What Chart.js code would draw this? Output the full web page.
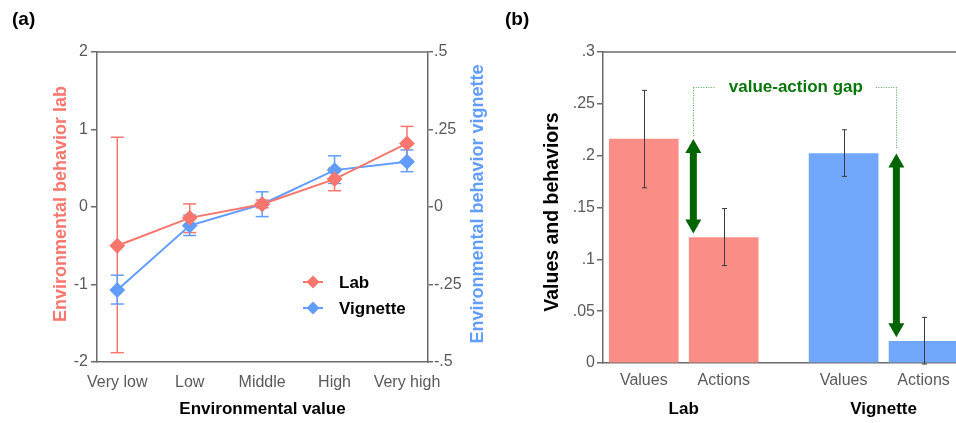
<!DOCTYPE html>
<html>
<head>
<meta charset="utf-8">
<script src="https://cdn.jsdelivr.net/npm/chart.js"></script>
<style>
    html, body { margin: 0; padding: 0; background: #fff; overflow: hidden; }
    #wrap { position: relative; width: 956px; height: 423px; }
    canvas { position: absolute; top: 0; }
    #chartA { left: 0; }
    #chartB { left: 480px; }
</style>
</head>
<body>
<div id="wrap">
    <canvas id="chartA" width="500" height="423"></canvas>
    <canvas id="chartB" width="476" height="423"></canvas>
</div>
<script>
// Panel (a): environmental value vs behavior
const envLevels = ['Very low', 'Low', 'Middle', 'High', 'Very high'];
const labMean = [-0.5, -0.14, 0.035, 0.36, 0.82];
const labLow = [-1.88, -0.33, -0.01, 0.21, 0.6];
const labHigh = [0.9, 0.04, 0.09, 0.5, 1.04];
const vigMean = [-0.268, -0.06, 0.009, 0.119, 0.146];
const vigLow = [-0.313, -0.092, -0.031, 0.076, 0.114];
const vigHigh = [-0.22, -0.026, 0.049, 0.165, 0.184];
const labTicks = [-2, -1, 0, 1, 2];
const vigTicks = [-0.5, -0.25, 0, 0.25, 0.5];

// Panel (b): values and behaviors
const barLabels = ['Values', 'Actions', 'Values', 'Actions'];
const barPos = [0, 1, 2.5, 3.5];
const barMean = [0.216, 0.121, 0.202, 0.021];
const barLow = [0.169, 0.094, 0.180, -0.001];
const barHigh = [0.263, 0.149, 0.225, 0.044];
const groupLabels = ['Lab', 'Vignette'];
const groupPos = [0.5, 3.0];
const gapArrowX = [0.62, 3.16];
const gapFrom = [barMean[0], barMean[2]];
const gapTo = [barMean[1], barMean[3]];
const bracketY = 0.266;
const bTicks = [0, 0.05, 0.1, 0.15, 0.2, 0.25, 0.3];

const RED = '#F8766D';
const BLUE = '#619CFF';
const AXIS = '#6b6b6b';
const TICK_TXT = '#5a5a5a';
const GREEN = '#006400';

Chart.defaults.font.family = "'Liberation Sans', Arial, sans-serif";
Chart.defaults.animation = false;

function fmtDot(v) {
    if (v === 0) return '0';
    return String(v).replace('0.', '.');
}

function vLine(ctx, x, y1, y2) {
    ctx.beginPath();
    ctx.moveTo(x, y1);
    ctx.lineTo(x, y2);
    ctx.stroke();
}

function hLine(ctx, x1, x2, y) {
    ctx.beginPath();
    ctx.moveTo(x1, y);
    ctx.lineTo(x2, y);
    ctx.stroke();
}

function rotText(ctx, text, x, y, font, color) {
    ctx.save();
    ctx.translate(x, y);
    ctx.rotate(-Math.PI / 2);
    ctx.font = font;
    ctx.fillStyle = color;
    ctx.textAlign = 'center';
    ctx.textBaseline = 'middle';
    ctx.fillText(text, 0, 0);
    ctx.restore();
}

function diamond(ctx, x, y, r, color) {
    ctx.beginPath();
    ctx.moveTo(x, y - r);
    ctx.lineTo(x + r, y);
    ctx.lineTo(x, y + r);
    ctx.lineTo(x - r, y);
    ctx.closePath();
    ctx.fillStyle = color;
    ctx.fill();
}

// error bars + frame + titles + legend for panel (a)
const panelAPlugin = {
    id: 'panelA',
    beforeDatasetsDraw(chart) {
        const ctx = chart.ctx;
        const x = chart.scales.x, y = chart.scales.y, y1 = chart.scales.y1;
        ctx.save();
        ctx.lineWidth = 1.5;
        const sets = [[labLow, labHigh, y, RED], [vigLow, vigHigh, y1, BLUE]];
        sets.forEach(function(s) {
            ctx.strokeStyle = s[3];
            for (let i = 0; i < envLevels.length; i++) {
                const px = x.getPixelForValue(i);
                const top = s[2].getPixelForValue(s[1][i]);
                const bot = s[2].getPixelForValue(s[0][i]);
                vLine(ctx, px, top, bot);
                hLine(ctx, px - 6.5, px + 6.5, top);
                hLine(ctx, px - 6.5, px + 6.5, bot);
            }
        });
        ctx.restore();
    },
    afterDraw(chart) {
        const ctx = chart.ctx;
        const a = chart.chartArea;
        ctx.save();
        ctx.strokeStyle = AXIS;
        ctx.lineWidth = 1.5;
        hLine(ctx, a.left, a.right, a.top);

        rotText(ctx, 'Environmental behavior lab', 61, 204, 'bold 18px "Liberation Sans", Arial', RED);
        rotText(ctx, 'Environmental behavior vignette', 478, 204, 'bold 18px "Liberation Sans", Arial', BLUE);

        ctx.font = 'bold 17px "Liberation Sans", Arial';
        ctx.fillStyle = '#000';
        ctx.textAlign = 'center';
        ctx.textBaseline = 'middle';
        ctx.fillText('Environmental value', (a.left + a.right) / 2, 409);

        ctx.font = 'bold 19px "Liberation Sans", Arial';
        ctx.textAlign = 'left';
        ctx.fillText('(a)', 12, 20);

        // legend
        const items = [['Lab', RED, 282], ['Vignette', BLUE, 308]];
        items.forEach(function(it) {
            const lx = a.left + 216;
            ctx.strokeStyle = it[1];
            ctx.lineWidth = 2;
            hLine(ctx, lx - 10, lx + 10, it[2]);
            diamond(ctx, lx, it[2], 6.5, it[1]);
            ctx.fillStyle = '#000';
            ctx.font = 'bold 17px "Liberation Sans", Arial';
            ctx.textAlign = 'left';
            ctx.fillText(it[0], lx + 26, it[2] + 1);
        });
        ctx.restore();
    }
};

new Chart(document.getElementById('chartA'), {
    type: 'line',
    data: {
        datasets: [
            {
                label: 'Lab',
                data: labMean.map(function(v, i) { return { x: i, y: v }; }),
                borderColor: RED,
                backgroundColor: RED,
                borderWidth: 2,
                pointStyle: 'rectRot',
                pointRadius: 6.5,
                yAxisID: 'y'
            },
            {
                label: 'Vignette',
                data: vigMean.map(function(v, i) { return { x: i, y: v }; }),
                borderColor: BLUE,
                backgroundColor: BLUE,
                borderWidth: 2,
                pointStyle: 'rectRot',
                pointRadius: 6.5,
                yAxisID: 'y1'
            }
        ]
    },
    options: {
        responsive: false,
        layout: { padding: { top: 52, left: 0, right: 0, bottom: 0 } },
        plugins: { legend: { display: false }, tooltip: { enabled: false } },
        scales: {
            x: {
                type: 'linear',
                min: -0.28,
                max: 4.29,
                afterBuildTicks: function(scale) {
                    scale.ticks = envLevels.map(function(_, i) { return { value: i }; });
                },
                afterFit: function(scale) { scale.height = 61; },
                grid: { display: false },
                border: { display: true, color: AXIS, width: 1.5 },
                ticks: {
                    color: TICK_TXT,
                    font: { size: 16 },
                    padding: 3,
                    maxRotation: 0,
                    callback: function(v) { return envLevels[v]; }
                }
            },
            y: {
                position: 'left',
                min: -2,
                max: 2,
                afterBuildTicks: function(scale) {
                    scale.ticks = labTicks.map(function(v) { return { value: v }; });
                },
                afterFit: function(scale) { scale.width = 97; },
                grid: { drawOnChartArea: false, drawTicks: true, tickLength: 6, color: AXIS, lineWidth: 1.5 },
                border: { display: true, color: AXIS, width: 1.5 },
                ticks: { color: TICK_TXT, font: { size: 16 }, padding: 3 }
            },
            y1: {
                position: 'right',
                min: -0.5,
                max: 0.5,
                afterBuildTicks: function(scale) {
                    scale.ticks = vigTicks.map(function(v) { return { value: v }; });
                },
                afterFit: function(scale) { scale.width = 72; },
                grid: { drawOnChartArea: false, drawTicks: true, tickLength: 5, color: AXIS, lineWidth: 1.5 },
                border: { display: true, color: AXIS, width: 1.5 },
                ticks: { color: TICK_TXT, font: { size: 16 }, padding: 1, callback: fmtDot }
            }
        }
    },
    plugins: [panelAPlugin]
});

// error bars, arrows, bracket, labels for panel (b)
const panelBPlugin = {
    id: 'panelB',
    afterDatasetsDraw(chart) {
        const ctx = chart.ctx;
        const x = chart.scales.x, y = chart.scales.y;
        const a = chart.chartArea;
        ctx.save();
        ctx.beginPath();
        ctx.rect(a.left, 0, a.right - a.left, chart.height);
        ctx.clip();

        // error bars
        ctx.strokeStyle = '#3a3a3a';
        ctx.lineWidth = 1;
        for (let i = 0; i < barPos.length; i++) {
            const px = Math.round(x.getPixelForValue(barPos[i])) + 0.5;
            const top = y.getPixelForValue(barHigh[i]);
            const bot = y.getPixelForValue(barLow[i]);
            vLine(ctx, px, top, bot);
            hLine(ctx, px - 2.5, px + 2.5, top);
            hLine(ctx, px - 2.5, px + 2.5, bot);
        }

        // double headed gap arrows
        ctx.fillStyle = GREEN;
        for (let i = 0; i < gapArrowX.length; i++) {
            const px = x.getPixelForValue(gapArrowX[i]);
            const top = y.getPixelForValue(gapFrom[i]);
            const bot = y.getPixelForValue(gapTo[i]) - 4;
            const head = 14, half = 8, shaft = 3.5;
            ctx.beginPath();
            ctx.moveTo(px, top);
            ctx.lineTo(px + half, top + head);
            ctx.lineTo(px + shaft, top + head);
            ctx.lineTo(px + shaft, bot - head);
            ctx.lineTo(px + half, bot - head);
            ctx.lineTo(px, bot);
            ctx.lineTo(px - half, bot - head);
            ctx.lineTo(px - shaft, bot - head);
            ctx.lineTo(px - shaft, top + head);
            ctx.lineTo(px - half, top + head);
            ctx.closePath();
            ctx.fill();
        }

        // dotted bracket with label
        const lx = x.getPixelForValue(gapArrowX[0]);
        const rx = x.getPixelForValue(gapArrowX[1]);
        const by = y.getPixelForValue(bracketY);
        const cx = (lx + rx) / 2;
        ctx.strokeStyle = '#4caf50';
        ctx.lineWidth = 1;
        ctx.setLineDash([1, 1.5]);
        vLine(ctx, Math.round(lx) + 0.5, y.getPixelForValue(gapFrom[0]) - 3, by);
        hLine(ctx, lx, cx - 80, Math.round(by) + 0.5);
        hLine(ctx, cx + 81, rx, Math.round(by) + 0.5);
        vLine(ctx, Math.round(rx) + 0.5, by, y.getPixelForValue(gapFrom[1]) - 4);
        ctx.setLineDash([]);
        ctx.font = 'bold 17px "Liberation Sans", Arial';
        ctx.fillStyle = '#0a750a';
        ctx.textAlign = 'center';
        ctx.textBaseline = 'middle';
        ctx.fillText('value-action gap', cx + 1, by);
        ctx.restore();
    },
    afterDraw(chart) {
        const ctx = chart.ctx;
        const a = chart.chartArea;
        const x = chart.scales.x;
        ctx.save();
        ctx.strokeStyle = AXIS;
        ctx.lineWidth = 1.5;
        hLine(ctx, a.left, a.right, a.top);

        rotText(ctx, 'Values and behaviors', 73, 212, 'bold 19.5px "Liberation Sans", Arial', '#000');

        ctx.font = 'bold 17px "Liberation Sans", Arial';
        ctx.fillStyle = '#000';
        ctx.textAlign = 'center';
        ctx.textBaseline = 'middle';
        for (let i = 0; i < groupLabels.length; i++) {
            ctx.fillText(groupLabels[i], x.getPixelForValue(groupPos[i]), 409);
        }

        ctx.font = 'bold 19px "Liberation Sans", Arial';
        ctx.textAlign = 'left';
        ctx.fillText('(b)', 25, 20);
        ctx.restore();
    }
};

new Chart(document.getElementById('chartB'), {
    type: 'bar',
    data: {
        datasets: [{
            label: 'Values and behaviors',
            data: barMean.map(function(v, i) { return { x: barPos[i], y: v }; }),
            backgroundColor: ['#FA8E86', '#FA8E86', '#70A7FA', '#70A7FA'],
            borderWidth: 0,
            barThickness: 69
        }]
    },
    options: {
        responsive: false,
        layout: { padding: { top: 52, left: 0, right: 0, bottom: 0 } },
        plugins: { legend: { display: false }, tooltip: { enabled: false } },
        scales: {
            x: {
                type: 'linear',
                offset: false,
                min: -0.51,
                max: 3.906,
                afterBuildTicks: function(scale) {
                    scale.ticks = barPos.map(function(v) { return { value: v }; });
                },
                afterFit: function(scale) { scale.height = 60; },
                grid: { display: false },
                border: { display: true, color: AXIS, width: 1.5 },
                ticks: {
                    color: TICK_TXT,
                    font: { size: 16 },
                    padding: 0,
                    maxRotation: 0,
                    autoSkip: false,
                    callback: function(v) { return barLabels[barPos.indexOf(v)]; }
                }
            },
            y: {
                min: 0,
                max: 0.3,
                afterBuildTicks: function(scale) {
                    scale.ticks = bTicks.map(function(v) { return { value: v }; });
                },
                afterFit: function(scale) { scale.width = 123; },
                grid: { drawOnChartArea: false, drawTicks: true, tickLength: 6, color: AXIS, lineWidth: 1.5 },
                border: { display: true, color: AXIS, width: 1.5 },
                ticks: { color: TICK_TXT, font: { size: 16 }, padding: 2, callback: fmtDot }
            }
        }
    },
    plugins: [panelBPlugin]
});
</script>
</body>
</html>
